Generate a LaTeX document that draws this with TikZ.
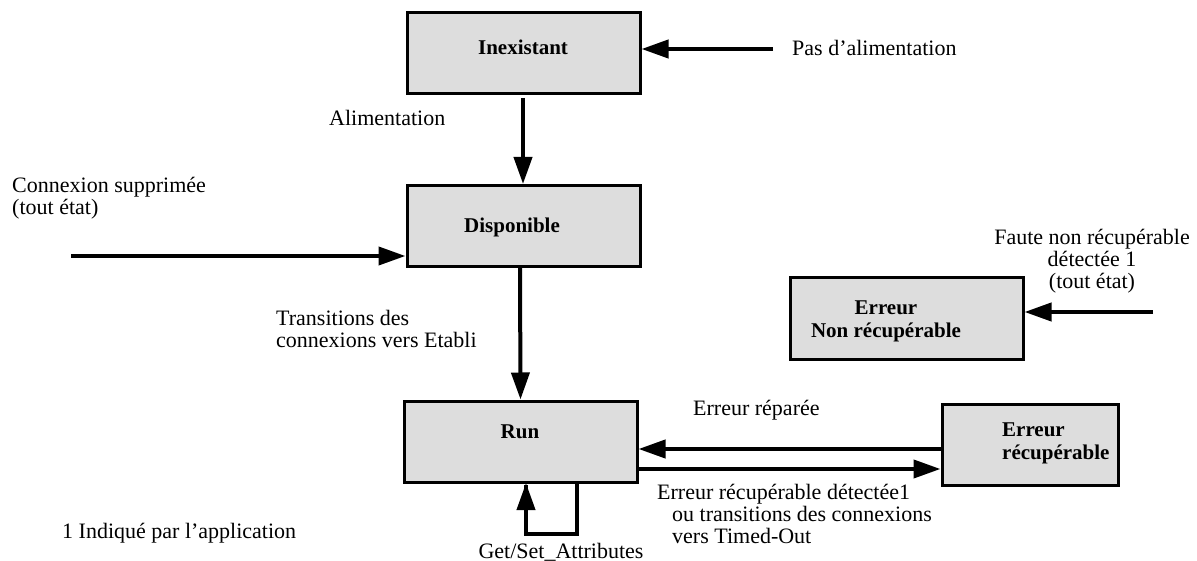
\documentclass[tikz,border=0pt]{standalone}
\usepackage{fontspec}
\setmainfont{Liberation Serif}
\usetikzlibrary{arrows.meta}
\definecolor{boxgray}{HTML}{DDDDDD}
\tikzset{
  statebox/.style={draw=black, fill=boxgray, line width=3pt, minimum width=#1, minimum height=81pt, inner sep=0pt},
  statebox/.default=233pt,
  boxtext/.style={font=\fontsize{21}{21}\selectfont\bfseries, inner sep=0pt},
  lbl/.style={font=\fontsize{22}{22}\selectfont, inner sep=0pt},
  conn/.style={line width=4pt, -{Triangle[length=27pt,width=18pt]}},
  plain/.style={line width=4pt}
}
\begin{document}
\begin{tikzpicture}[x=1pt,y=-1pt]
\useasboundingbox (0,0) rectangle (1197,561);
% boxes
\node[statebox] (inex) at (523.5,53) {};
\node[statebox] (dispo) at (523.5,226) {};
\node[statebox] (run) at (520.5,441.5) {};
\node[statebox=176pt] (erec) at (1030,444.5) {};
\node[statebox] (enr) at (906.5,318.5) {};
% box texts
\node[boxtext] (tinex) at (523,47) {Inexistant};
\node[boxtext] (tdispo) at (512,227) {Disponible};
\node[boxtext] (trun) at (520,432) {Run};
\node[boxtext, align=left, anchor=west] (terec) at (1002,443) {Erreur\\[2pt]récupérable};
\node[boxtext, align=center] (tenr) at (886,321) {Erreur\\[2pt]Non récupérable};
% coordinates
\coordinate (pasA) at (773,49);
\coordinate (conA) at (71,256);
\coordinate (fauA) at (1153,312);
\coordinate (rep) at (942,449);
\coordinate (det) at (637,469);
\coordinate (l1) at (577,483);
\coordinate (l2) at (577,534);
\coordinate (l3) at (526,534);
\coordinate (l4) at (526,483);
% connectors
\draw[conn] (pasA) -- (inex.east |- pasA);
\draw[conn] (523,98) -- (dispo.north -| 523,0);
\draw[conn] (conA) -- (dispo.west |- conA);
\draw[conn] (520,268) -- (run.north);
\draw[conn] (fauA) -- (enr.east |- fauA);
\draw[conn] (erec.west |- rep) -- (run.east |- rep);
\draw[conn] (det) -- (erec.west |- det);
\draw[plain] (l1) -- (l2) -- (l3) -- ([yshift=-2pt]l3 |- l4);
\draw[conn] (l3) -- (l4);
% labels
\node[lbl, anchor=west] (tpas) at (792,48) {Pas d’alimentation};
\node[lbl, anchor=west] (talim) at (329,118) {Alimentation};
\node[lbl, anchor=west, align=left] (tcon) at (12,198) {Connexion supprimée\\(tout état)};
\node[lbl, anchor=west, align=left] (ttrans) at (276,329) {Transitions des\\connexions vers Etabli};
\node[lbl, align=center] (tfaute) at (1092,261) {Faute non récupérable\\détectée 1\\(tout état)};
\node[lbl, anchor=west] (trep) at (693,410) {Erreur réparée};
\node[lbl, anchor=north west, align=left] (tdet) at (657,484) {Erreur récupérable détectée1\\\hspace*{15pt}ou transitions des connexions\\\hspace*{15pt}vers Timed-Out};
\node[lbl] (tget) at (561,552) {Get/Set\_Attributes};
\node[lbl, anchor=west] (tind) at (62,533) {1 Indiqué par l’application};
\end{tikzpicture}
\end{document}
